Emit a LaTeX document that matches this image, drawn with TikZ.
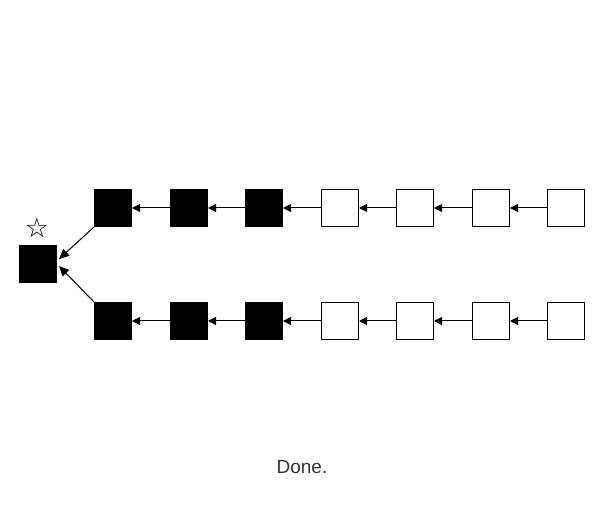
\documentclass[tikz,border=0pt]{standalone}
\usepackage{fontspec}
\setmainfont{Liberation Sans}
\newfontfamily\symfont{DejaVu Sans}
\usetikzlibrary{arrows.meta}
\definecolor{txtgray}{HTML}{333333}
\begin{document}
\begin{tikzpicture}[x=1pt,y=-1pt,
  blk/.style={draw=black,line width=1pt,minimum size=37pt,inner sep=0pt,fill=black},
  wht/.style={draw=black,line width=1pt,minimum size=37pt,inner sep=0pt,fill=white},
  link/.style={draw=black,line width=1pt,-{Triangle[length=8pt,width=8pt]}},
  biglink/.style={draw=black,line width=1pt,-{Triangle[length=10pt,width=9pt]}}]
\useasboundingbox (0,0) rectangle (605,529);
\node[blk] (L) at (38,264) {};
\node[font=\symfont\fontsize{27}{27}\selectfont,inner sep=0pt] (star) at (37,228) {☆};
\foreach \i/\x in {1/113,2/189,3/264,4/340,5/415,6/491,7/566}{
  \ifnum\i<4
    \node[blk] (t\i) at (\x,208) {};
    \node[blk] (b\i) at (\x,321) {};
  \else
    \node[wht] (t\i) at (\x,208) {};
    \node[wht] (b\i) at (\x,321) {};
  \fi
}
\foreach \i/\j in {1/2,2/3,3/4,4/5,5/6,6/7}{
  \draw[link] (t\j.west) -- (t\i.east);
  \draw[link] (b\j.west) -- (b\i.east);
}
\coordinate (Lu) at ([xshift=2pt,yshift=5pt]L.east);
\coordinate (Ld) at ([xshift=2pt,yshift=-2pt]L.east);
\draw[biglink] (t1.south west) -- (Lu);
\draw[biglink] (b1.north west) -- (Ld);
\node[font=\fontsize{19}{22}\selectfont,text=txtgray,inner sep=0pt] (done) at (302,467) {Done.};
\end{tikzpicture}
\end{document}
